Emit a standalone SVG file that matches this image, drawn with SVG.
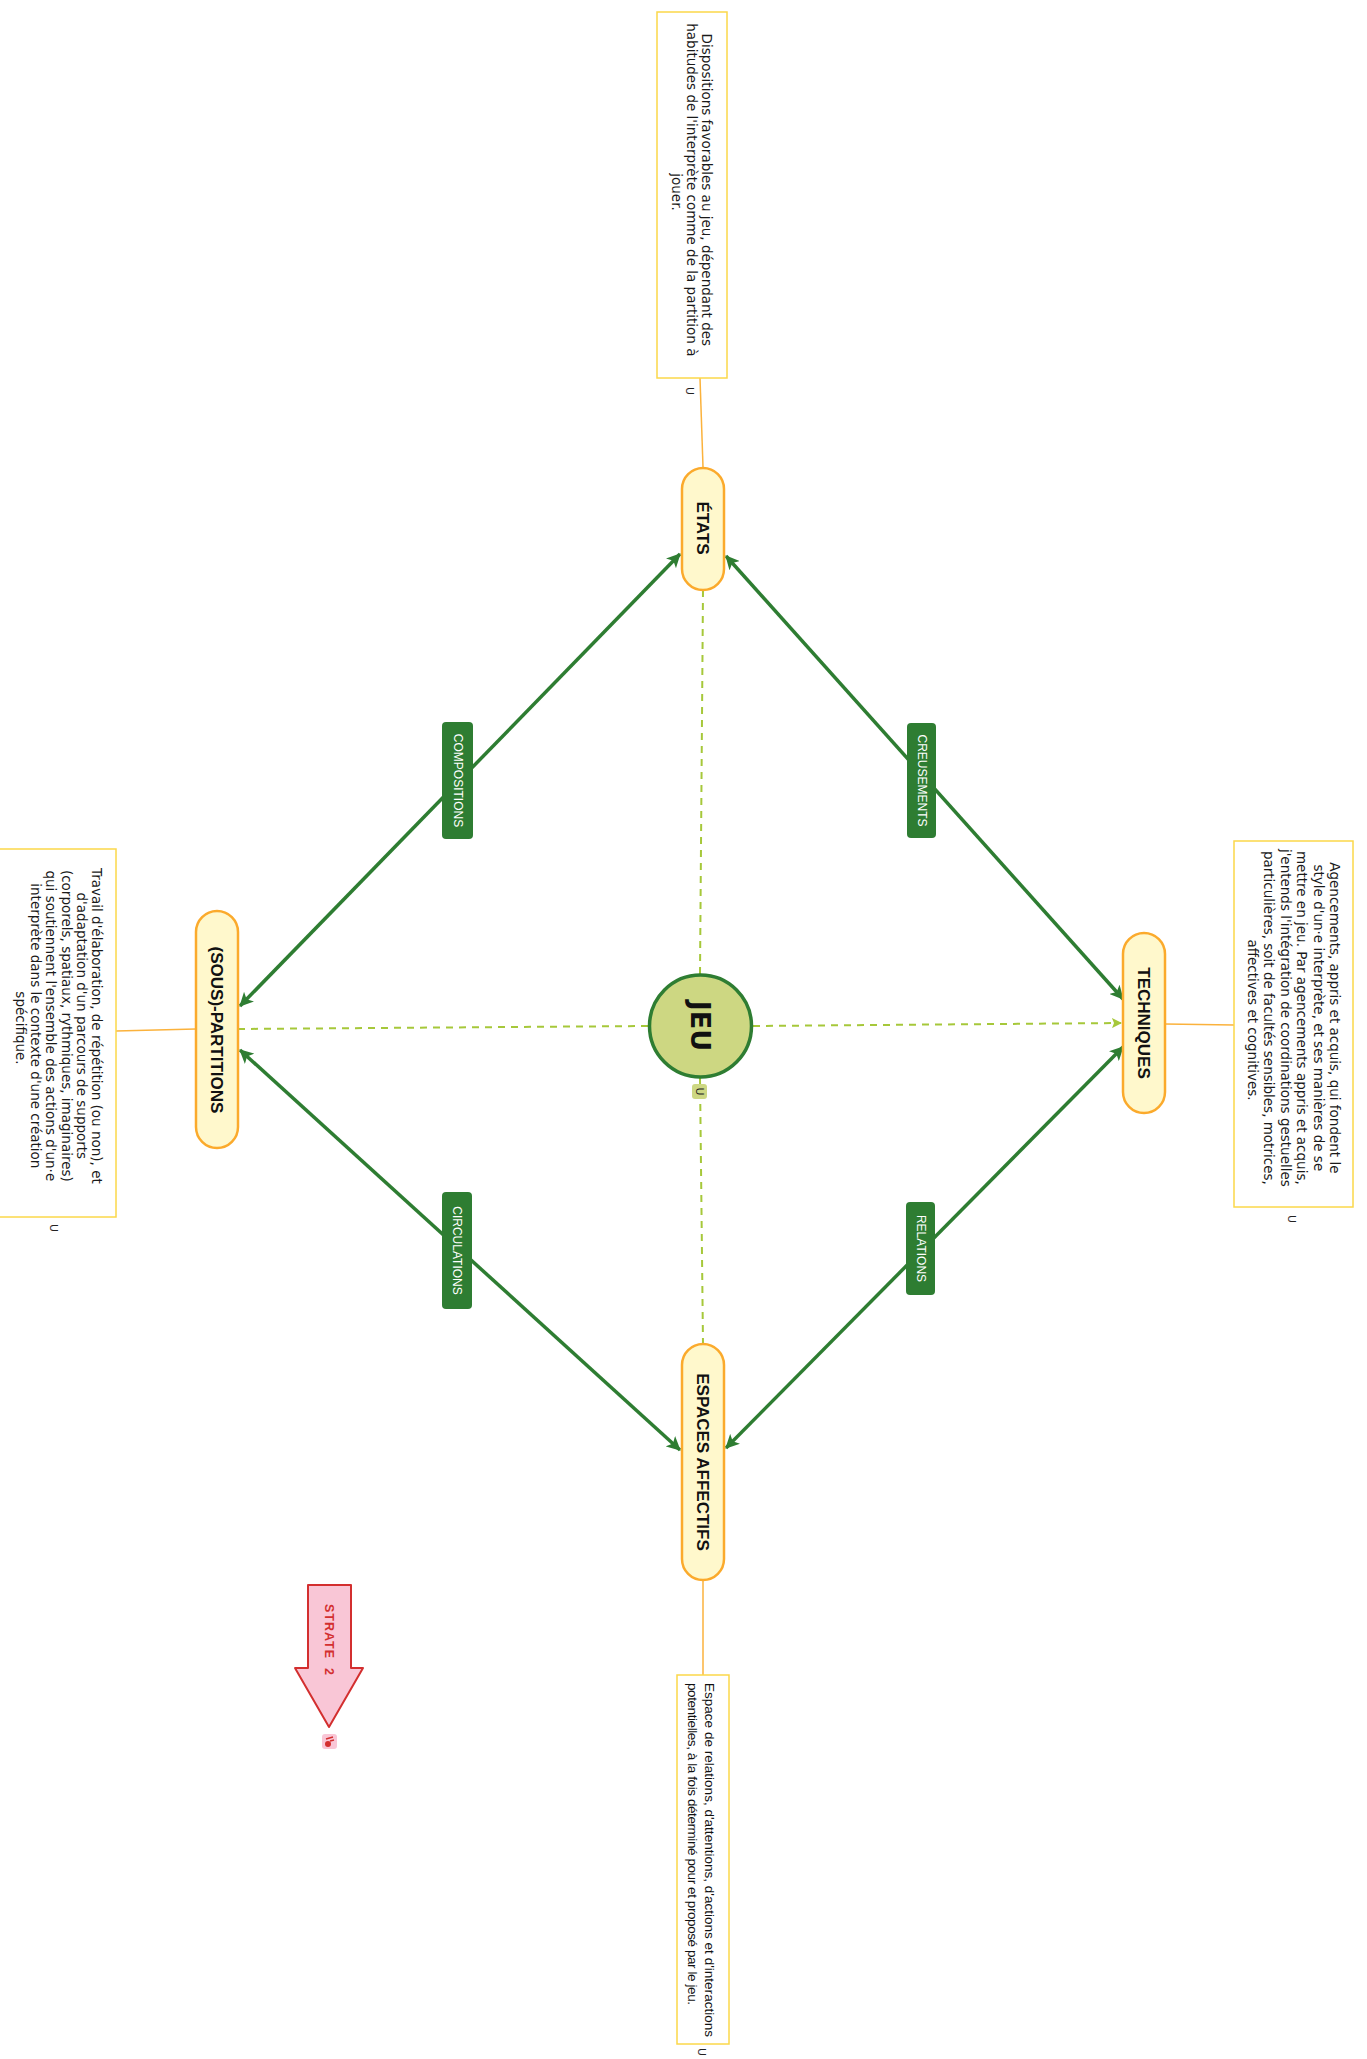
<svg xmlns="http://www.w3.org/2000/svg" width="1367" height="2059" viewBox="0 0 1367 2059">
<style>
.note{fill:#ffffff;stroke:#fbd84a;stroke-width:1.5}
.ntx{font-family:"DejaVu Sans",sans-serif;font-size:13.5px;fill:#1a1a1a}
.node{fill:#fff8cc;stroke:#fbaa2c;stroke-width:2.5}
.ntitle{font-family:"Liberation Sans",Arial,sans-serif;font-weight:bold;font-size:17px;fill:#111}
.rel{stroke:#2e7d32;stroke-width:3.5;fill:none}
.dash{stroke:#a6c83a;stroke-width:2;stroke-dasharray:7 6;fill:none}
.olink{stroke:#fbb23c;stroke-width:1.5;fill:none}
.lbl{fill:#2e7d32}
.ltx{font-family:"Liberation Sans",Arial,sans-serif;font-size:12px;fill:#ffffff}
.ico{font-family:"DejaVu Sans",sans-serif;font-size:11px;fill:#222}
</style>
<defs>
<marker id="ga" viewBox="0 0 14 14" refX="13" refY="7" markerWidth="14" markerHeight="14" markerUnits="userSpaceOnUse" orient="auto-start-reverse">
<path d="M0,0 L14,7 L0,14 L3.5,7 Z" fill="#2e7d32"/>
</marker>
<marker id="la" viewBox="0 0 10 10" refX="9" refY="5" markerWidth="10" markerHeight="10" markerUnits="userSpaceOnUse" orient="auto">
<path d="M0,0 L10,5 L0,10 L2,5 Z" fill="#a6c83a"/>
</marker>
</defs>
<rect width="1367" height="2059" fill="#ffffff"/>

<g id="connectors">
<line class="olink" x1="700" y1="378" x2="703" y2="467"/>
<line class="olink" x1="116" y1="1031" x2="196" y2="1029"/>
<line class="olink" x1="1165" y1="1024" x2="1234" y2="1025"/>
<line class="olink" x1="703" y1="1580" x2="703" y2="1675"/>
<line class="dash" x1="700" y1="974" x2="703" y2="590"/>
<line class="dash" x1="648" y1="1026" x2="238" y2="1029"/>
<line class="dash" x1="753" y1="1026" x2="1121" y2="1023" marker-end="url(#la)"/>
<line class="dash" x1="700" y1="1078" x2="703" y2="1344"/>
<line class="rel" x1="680" y1="554" x2="240" y2="1006" marker-start="url(#ga)" marker-end="url(#ga)"/>
<line class="rel" x1="726" y1="556" x2="1123" y2="999" marker-start="url(#ga)" marker-end="url(#ga)"/>
<line class="rel" x1="240" y1="1050" x2="680" y2="1450" marker-start="url(#ga)" marker-end="url(#ga)"/>
<line class="rel" x1="726" y1="1448" x2="1123" y2="1047" marker-start="url(#ga)" marker-end="url(#ga)"/>
<g id="lbl-compositions">
<rect class="lbl" x="442" y="722" width="31" height="117" rx="4"/>
<text class="ltx" text-anchor="middle" transform="translate(457.5,780.5) rotate(90)" y="4">COMPOSITIONS</text>
</g>
<g id="lbl-creusements">
<rect class="lbl" x="907" y="723" width="29" height="115" rx="4"/>
<text class="ltx" text-anchor="middle" transform="translate(921.5,780.5) rotate(90)" y="4">CREUSEMENTS</text>
</g>
<g id="lbl-circulations">
<rect class="lbl" x="442" y="1192" width="30" height="117" rx="4"/>
<text class="ltx" text-anchor="middle" transform="translate(457,1250.5) rotate(90)" y="4">CIRCULATIONS</text>
</g>
<g id="lbl-relations">
<rect class="lbl" x="906" y="1202" width="29" height="93" rx="4"/>
<text class="ltx" text-anchor="middle" transform="translate(920.5,1248.5) rotate(90)" y="4">RELATIONS</text>
</g>
</g>

<g id="note-etats">
<rect class="note" x="657" y="12" width="70" height="366"/>
<text class="ntx" text-anchor="middle" transform="translate(707,192) rotate(90)">
<tspan x="0" y="4.7">Dispositions favorables au jeu, dépendant des</tspan>
<tspan x="0" dy="15">habitudes de l'interprète comme de la partition à</tspan>
<tspan x="0" dy="15">jouer.</tspan>
</text>
<text class="ico" text-anchor="middle" transform="translate(690,391) rotate(90)" y="4">U</text>
</g>

<g id="note-partitions">
<rect class="note" x="-2" y="849" width="118" height="368"/>
<text class="ntx" text-anchor="middle" transform="translate(97,1028) rotate(90)">
<tspan x="0" y="4.7">Travail d'élaboration, de répétition (ou non), et</tspan>
<tspan x="0" dy="15.3">d'adaptation d'un parcours de supports</tspan>
<tspan x="0" dy="15.3">(corporels, spatiaux, rythmiques, imaginaires)</tspan>
<tspan x="0" dy="15.3">qui soutiennent l'ensemble des actions d'un·e</tspan>
<tspan x="0" dy="15.3">interprète dans le contexte d'une création</tspan>
<tspan x="0" dy="15.3">spécifique.</tspan>
</text>
<text class="ico" text-anchor="middle" transform="translate(54,1228) rotate(90)" y="4">U</text>
</g>

<g id="note-techniques">
<rect class="note" x="1234" y="841" width="119" height="366"/>
<text class="ntx" text-anchor="middle" transform="translate(1335,1020) rotate(90)">
<tspan x="0" y="4.7">Agencements, appris et acquis, qui fondent le</tspan>
<tspan x="0" dy="16.5">style d'un·e interprète, et ses manières de se</tspan>
<tspan x="0" dy="16.5">mettre en jeu. Par agencements appris et acquis,</tspan>
<tspan x="0" dy="16.5">j'entends l'intégration de coordinations gestuelles</tspan>
<tspan x="0" dy="16.5">particulières, soit de facultés sensibles, motrices,</tspan>
<tspan x="0" dy="16.5">affectives et cognitives.</tspan>
</text>
<text class="ico" text-anchor="middle" transform="translate(1292,1219) rotate(90)" y="4">U</text>
</g>

<g id="note-espaces">
<rect class="note" x="677" y="1675" width="52" height="369"/>
<text style="font-family:'Liberation Sans',Arial,sans-serif;font-size:13.5px;fill:#111" transform="translate(710,1683) rotate(90)">
<tspan x="0" y="4.7" textLength="354" lengthAdjust="spacing">Espace de relations, d'attentions, d'actions et d'interactions</tspan>
<tspan x="0" dy="17" textLength="322" lengthAdjust="spacing">potentielles, à la fois déterminé pour et proposé par le jeu.</tspan>
</text>
<text class="ico" text-anchor="middle" transform="translate(702,2052) rotate(90)" y="4">U</text>
</g>

<g id="node-etats">
<rect class="node" x="682" y="468" width="42" height="122" rx="21"/>
<text class="ntitle" text-anchor="middle" transform="translate(703,528) rotate(90)" y="6">ÉTATS</text>
</g>

<g id="node-partitions">
<rect class="node" x="196" y="911" width="42" height="237" rx="21"/>
<text class="ntitle" text-anchor="middle" transform="translate(217,1030) rotate(90)" y="6">(SOUS)-PARTITIONS</text>
</g>

<g id="node-techniques">
<rect class="node" x="1123" y="933" width="42" height="180" rx="21"/>
<text class="ntitle" text-anchor="middle" transform="translate(1144,1023) rotate(90)" y="6">TECHNIQUES</text>
</g>

<g id="node-espaces">
<rect class="node" x="682" y="1344" width="42" height="236" rx="21"/>
<text class="ntitle" text-anchor="middle" transform="translate(703,1462) rotate(90)" y="6">ESPACES AFFECTIFS</text>
</g>

<g id="node-jeu">
<circle cx="700.5" cy="1026" r="51" fill="#cdd782" stroke="#2e7d32" stroke-width="3.5"/>
<text text-anchor="middle" transform="translate(700.5,1026) rotate(90)" y="10" style="font-family:'DejaVu Sans',sans-serif;font-weight:bold;font-size:27px;fill:#111">JEU</text>
<rect x="692" y="1084" width="15" height="15" rx="3" fill="#cdd782"/>
<text class="ico" text-anchor="middle" transform="translate(699.5,1091.5) rotate(90)" y="4">U</text>
</g>

<g id="strate">
<path d="M308,1585 L351,1585 L351,1668 L363,1668 L329,1727 L295,1668 L308,1668 Z" fill="#f9c6d6" stroke="#d32f2f" stroke-width="2" stroke-linejoin="round"/>
<text text-anchor="middle" transform="translate(329,1640) rotate(90)" y="4.5" style="font-family:'Liberation Sans',Arial,sans-serif;font-weight:bold;font-size:12.5px;fill:#d32f2f;letter-spacing:1px;white-space:pre">STRATE  2</text>
<rect x="322" y="1734" width="15" height="15" rx="3" fill="#f9c6d6"/>
<circle cx="328" cy="1744" r="3" fill="#d32f2f"/>
<path d="M326,1739 L333,1737 M330,1741 L334,1740" stroke="#d32f2f" stroke-width="1.5" fill="none"/>
</g>
</svg>
